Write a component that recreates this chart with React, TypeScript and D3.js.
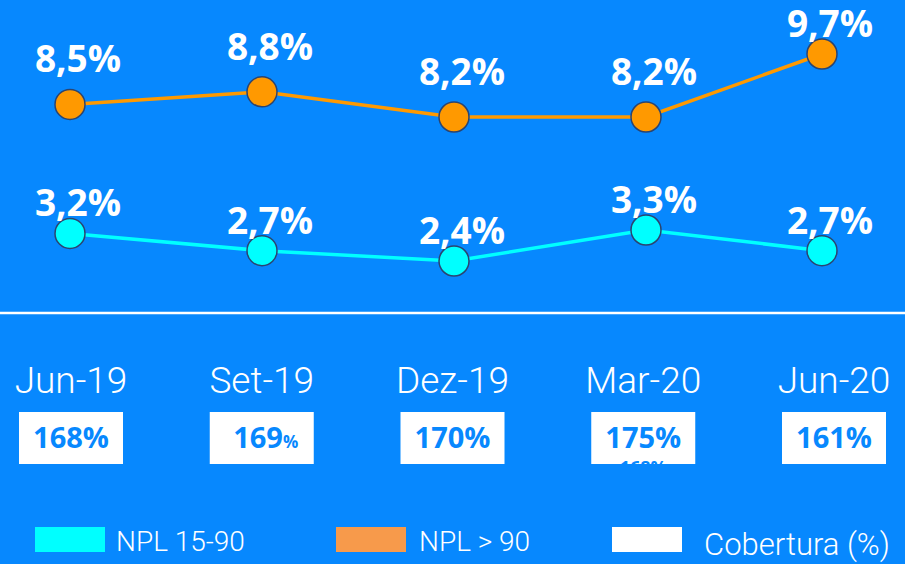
import React from "react";
import * as d3 from "d3";

const periods = ["Jun-19", "Set-19", "Dez-19", "Mar-20", "Jun-20"];
const nplOver90 = [8.5, 8.8, 8.2, 8.2, 9.7];
const npl15to90 = [3.2, 2.7, 2.4, 3.3, 2.7];
const coverage = [168, 169, 170, 175, 161];
const coverageLabels = ["168%", "169%", "170%", "175%", "161%"];
const legendItems = [
  { label: "NPL 15-90", color: "#00FFFF" },
  { label: "NPL > 90", color: "#F79A4B" },
  { label: "Cobertura (%)", color: "#FFFFFF" },
];

const W = 905;
const H = 564;
const BG = "#0788FE";
const ORANGE = "#FF9900";
const CYAN = "#00FFFF";
const RING = "#2B4470";

export default function App() {
  // point positions for the two lines (last gap is a bit narrower in the original)
  const x = d3.scaleLinear().domain([0, 3, 4]).range([70, 646, 822]);
  // category labels / coverage boxes underneath
  const xc = d3.scalePoint<string>().domain(periods).range([71, 834]);

  // each series on its own value axis (like the dual-axis original)
  const yOrange = d3.scaleLinear().domain([8.2, 9.7]).range([117, 54]);
  const yCyan = d3.scaleLinear().domain([2.4, 3.3]).range([261, 230]);

  const orangeLine = d3
    .line<number>()
    .x((_, i) => x(i))
    .y((d) => yOrange(d));
  const cyanLine = d3
    .line<number>()
    .x((_, i) => x(i))
    .y((d) => yCyan(d));

  const fmt = (v: number) => v.toFixed(1).replace(".", ",") + "%";

  const labelFont = "'Open Sans', 'DejaVu Sans', sans-serif";
  const thinFont = "Roboto, 'Open Sans', sans-serif";

  const boxW = 104;
  const boxH = 52;
  const boxY = 412;

  return (
    <div style={{ position: "absolute", left: 0, top: 0 }}>
      <svg width={W} height={H} style={{ display: "block" }}>
        <rect width={W} height={H} fill={BG} />

        {/* NPL > 90 */}
        <path d={orangeLine(nplOver90)!} fill="none" stroke={ORANGE} strokeWidth={3.5} />
        {nplOver90.map((v, i) => (
          <circle key={"o" + i} cx={x(i)} cy={yOrange(v)} r={15} fill={ORANGE} stroke={RING} strokeWidth={1.5} />
        ))}
        {nplOver90.map((v, i) => (
          <text
            key={"ol" + i}
            x={x(i) + 8}
            y={yOrange(v) - (i === nplOver90.length - 1 ? 17 : 32)}
            textAnchor="middle"
            fill="#fff"
            fontFamily={labelFont}
            fontWeight={700}
            fontSize={37}
          >
            {fmt(v)}
          </text>
        ))}

        {/* NPL 15-90 */}
        <path d={cyanLine(npl15to90)!} fill="none" stroke={CYAN} strokeWidth={3.5} />
        {npl15to90.map((v, i) => (
          <circle key={"c" + i} cx={x(i)} cy={yCyan(v)} r={15} fill={CYAN} stroke={RING} strokeWidth={1.5} />
        ))}
        {npl15to90.map((v, i) => (
          <text
            key={"cl" + i}
            x={x(i) + 8}
            y={yCyan(v) - 17}
            textAnchor="middle"
            fill="#fff"
            fontFamily={labelFont}
            fontWeight={700}
            fontSize={37}
          >
            {fmt(v)}
          </text>
        ))}

        {/* separator */}
        <line x1={0} x2={W} y1={313} y2={313} stroke="#fff" strokeWidth={2.5} />

        {/* category labels */}
        {periods.map((p) => (
          <text
            key={"p" + p}
            x={xc(p)}
            y={393}
            textAnchor="middle"
            fill="#fff"
            fontFamily={thinFont}
            fontWeight={300}
            fontSize={37}
          >
            {p}
          </text>
        ))}

        {/* coverage boxes */}
        <defs>
          <clipPath id="box-mar20">
            <rect x={xc(periods[3])! - boxW / 2} y={boxY} width={boxW} height={boxH} />
          </clipPath>
        </defs>
        {coverage.map((c, i) => {
          const cx = xc(periods[i])!;
          return (
            <g key={"b" + i}>
              <rect x={cx - boxW / 2} y={boxY} width={boxW} height={boxH} fill="#fff" />
              {i === 1 ? (
                <text x={cx + 4} y={448} textAnchor="middle" fill={BG} fontFamily={labelFont} fontWeight={700} fontSize={29}>
                  {String(c)}
                  <tspan fontSize={17}>%</tspan>
                </text>
              ) : (
                <text x={cx} y={448} textAnchor="middle" fill={BG} fontFamily={labelFont} fontWeight={700} fontSize={29}>
                  {coverageLabels[i]}
                </text>
              )}
            </g>
          );
        })}
        {/* leftover label peeking out under the Mar-20 value */}
        <text
          x={xc(periods[3])}
          y={474}
          textAnchor="middle"
          fill={BG}
          fontFamily={labelFont}
          fontWeight={700}
          fontSize={18}
          clipPath="url(#box-mar20)"
        >
          {coverageLabels[0]}
        </text>

        {/* legend */}
        {legendItems.map((item, i) => {
          const lx = [35, 336, 612][i];
          const gap = [11, 13, 22][i];
          return (
            <g key={"lg" + i} transform={`translate(${lx},527)`}>
              <rect width={70} height={25} fill={item.color} />
              <text
                x={70 + gap}
                y={i === 2 ? 28 : 24}
                fill="#fff"
                fontFamily={thinFont}
                fontWeight={300}
                fontSize={i === 2 ? 31 : 28}
              >
                {item.label}
              </text>
            </g>
          );
        })}
      </svg>
    </div>
  );
}
